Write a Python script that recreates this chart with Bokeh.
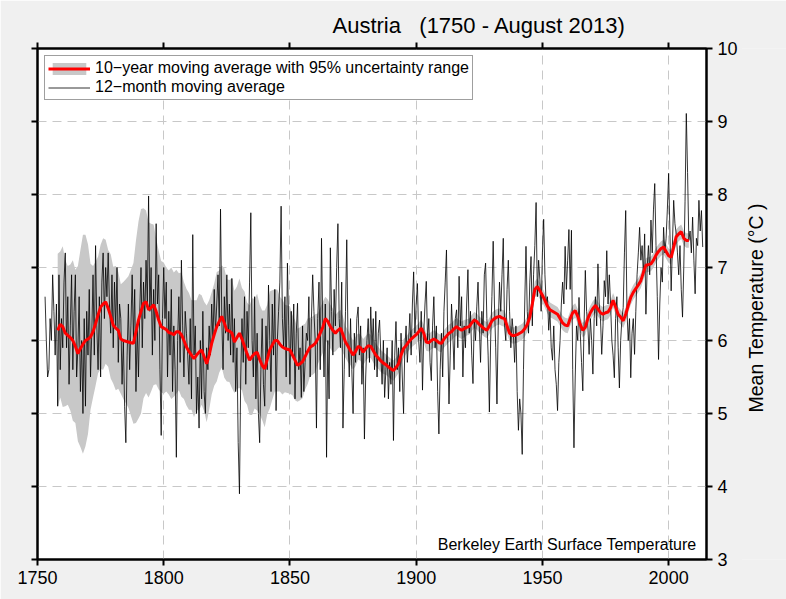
import math
from bokeh.plotting import figure
from bokeh.layouts import row
from bokeh.models import Range1d, LinearAxis, FixedTicker, Legend, LegendItem, Label
from bokeh.embed import file_html
from bokeh.resources import INLINE

# ---------------- data ----------------
# 12-month moving average, semi-annual readings starting 1753.0
ma12_1753_1799 = [
    6.6, 6.0, 5.5, 5.6, 6.3, 6.0, 6.9, 6.4, 5.8, 6.5, 5.1, 6.9, 5.6, 6.3,
    5.9, 6.8, 7.2, 5.9, 6.6, 5.4, 6.2, 6.9, 5.6, 6.4, 6.9, 5.5, 5.9, 6.6, 5.3, 6.0, 5.0, 6.3, 5.1, 6.4,
    5.8, 6.7, 5.5, 6.1, 6.9, 5.8, 7.3, 6.2, 5.6, 6.6, 5.5, 6.8, 7.2, 6.3, 7.0, 6.6, 7.2, 6.5, 6.1, 6.9,
    5.9, 6.8, 6.2, 7.0, 5.7, 6.5, 6.3, 5.4, 6.0, 5.1, 4.6, 5.8, 6.5, 5.6, 6.2, 6.9, 6.0, 6.7, 5.3, 6.2,
    5.5, 6.4, 7.0, 5.9, 6.8, 6.3, 7.1, 6.5, 7.98, 6.4, 7.0, 5.8, 6.7, 6.0, 7.6, 6.5, 6.9, 5.6, 4.7, 6.3,
]
ma12_1800_1849 = [
    7.0, 6.3, 6.8, 5.5, 6.4, 5.8, 6.7, 5.3, 6.2, 5.6, 4.4, 6.0, 6.6, 5.7, 7.1, 6.2, 5.5, 6.4, 6.1, 5.8,
    5.4, 6.3, 5.2, 7.45, 5.8, 6.2, 5.0, 5.5, 4.8, 6.0, 5.2, 6.4, 5.3, 5.0, 5.9, 5.6, 6.2, 5.8, 6.5, 6.0,
    6.7, 6.1, 6.5, 6.9, 6.2, 7.8, 6.3, 5.6, 6.6, 6.1, 6.9, 6.0, 6.5, 5.8, 6.85, 5.7, 6.3, 5.3, 5.9, 4.6,
    3.9, 5.5, 6.3, 5.7, 6.6, 5.4, 6.4, 5.9, 6.8, 7.75, 6.0, 5.5, 6.6, 5.2, 6.1, 5.0, 4.6, 5.6, 6.3, 5.4,
    5.1, 6.2, 5.6, 6.76, 6.0, 5.3, 6.5, 5.8, 6.7, 5.04, 6.0, 6.4, 6.8, 7.84, 6.3, 5.9, 6.6, 5.5, 7.06, 6.2,
]
ma12_1850_1899 = [
    5.4, 6.4, 5.8, 6.5, 5.2, 6.1, 6.51, 5.6, 5.9, 5.22, 6.2, 5.3, 5.7, 6.1, 6.0, 6.6, 5.5, 6.3, 6.9, 6.4,
    6.0, 4.8, 6.3, 6.8, 5.6, 7.4, 6.2, 5.5, 6.5, 4.4, 6.0, 5.2, 7.27, 6.4, 5.8, 6.7, 6.2, 7.0, 7.6, 6.3,
    5.9, 6.8, 4.8, 5.6, 6.4, 7.38, 6.0, 5.5, 6.3, 5.6, 5.0, 6.1, 5.7, 6.3, 6.46, 5.8, 6.2, 5.4, 5.9, 4.65,
    5.5, 6.0, 6.3, 5.7, 6.46, 5.9, 6.3, 5.6, 6.4, 5.5, 6.1, 6.28, 5.8, 5.4, 6.0, 5.22, 5.6, 5.9, 5.2, 5.7,
    5.4, 6.0, 4.63, 5.8, 6.26, 5.6, 5.9, 5.3, 6.1, 5.5, 5.0, 5.9, 6.2, 5.7, 6.0, 6.37, 5.8, 6.5, 6.94, 6.1,
]
ma12_1900_1949 = [
    6.5, 6.78, 6.0, 5.7, 6.4, 5.32, 6.1, 6.5, 6.81, 6.0, 6.3, 5.7, 5.45, 6.2, 6.6, 5.9, 6.2, 5.3, 4.72, 5.6,
    6.1, 5.5, 6.4, 6.8, 7.24, 6.0, 5.13, 5.8, 6.5, 6.1, 5.6, 6.3, 6.42, 5.9, 6.88, 6.2, 6.6, 5.5, 6.2, 5.9,
    6.5, 6.97, 6.1, 6.4, 5.8, 5.41, 6.3, 6.0, 6.46, 6.8, 6.2, 5.7, 6.4, 6.1, 6.9, 7.06, 6.3, 5.8, 5.02, 6.0,
    6.6, 7.36, 6.5, 5.9, 5.13, 6.2, 6.8, 6.4, 6.9, 7.4, 6.2, 6.0, 6.7, 7.1, 6.4, 5.9, 6.3, 6.1, 5.7, 6.2,
    5.3, 4.77, 5.2, 5.0, 4.44, 5.6, 6.5, 7.29, 6.4, 6.1, 6.8, 7.15, 6.2, 6.9, 7.3, 7.89, 6.6, 7.1, 6.83, 6.4,
]
ma12_1950_2013 = [
    7.2, 7.66, 6.9, 6.5, 6.6, 6.14, 6.4, 5.9, 5.73, 6.2, 5.6, 5.4, 5.04, 5.7, 6.0, 6.5, 6.8, 6.5, 7.29, 6.7,
    7.1, 7.52, 6.7, 7.51, 5.6, 4.53, 5.5, 6.2, 6.0, 6.59, 6.1, 5.7, 5.31, 6.2, 6.96, 6.4, 6.2, 5.81, 6.3, 6.0,
    5.54, 6.3, 6.6, 6.2, 7.05, 6.5, 6.3, 5.81, 6.2, 6.82, 6.6, 7.23, 6.5, 6.9, 6.5, 6.0, 5.8, 5.49, 6.3, 6.6,
    5.9, 5.35, 6.0, 6.3, 6.45, 7.2, 7.78, 6.4, 6.0, 6.3, 5.49, 6.1, 6.3, 5.81, 6.4, 6.9, 7.2, 7.55, 7.1, 7.3,
    6.9, 7.46, 6.36, 7.0, 7.3, 6.9, 7.65, 7.2, 7.8, 8.15, 7.3, 6.6, 5.74, 6.5, 7.0, 6.8, 7.55, 7.2, 7.4, 7.8,
    8.29, 7.5, 6.68, 7.3, 7.92, 7.6, 7.46, 7.2, 6.9, 7.3, 6.7, 6.32, 7.0, 7.9, 9.11, 8.3, 7.37, 7.5, 7.2, 7.69,
    7.1, 6.64, 7.4, 7.3, 7.92, 7.5, 7.78, 7.28,
]
ma12_start_year = 1753.0
ma12_step = 0.5

# 10-year moving average, annual readings starting 1758
ma10_1758_1849 = [
    6.14, 6.22,
    6.19, 6.10, 6.07, 6.04, 6.00, 5.92, 5.82, 5.89, 5.95, 6.00,
    6.02, 6.05, 6.12, 6.23, 6.35, 6.46, 6.50, 6.53, 6.44, 6.33,
    6.21, 6.17, 6.14, 6.02, 6.00, 5.99, 5.98, 5.97, 5.96, 6.12,
    6.28, 6.40, 6.51, 6.53, 6.42, 6.45, 6.49, 6.40, 6.28, 6.19,
    6.17, 6.15, 6.11, 6.10, 6.08, 6.12, 6.12, 6.08, 6.00, 5.91,
    5.85, 5.80, 5.75, 5.80, 5.84, 5.87, 5.78, 5.68, 5.80, 5.96,
    6.08, 6.19, 6.26, 6.33, 6.24, 6.14, 6.13, 6.10, 5.98, 6.04,
    6.10, 6.02, 5.92, 5.82, 5.73, 5.78, 5.82, 5.84, 5.74, 5.66,
    5.61, 5.74, 5.87, 5.94, 6.00, 6.00, 5.95, 5.91, 5.89, 5.88,
]
ma10_1850_1929 = [
    5.87, 5.80, 5.73, 5.66, 5.68, 5.71, 5.78, 5.85, 5.91, 5.93,
    5.96, 6.02, 6.10, 6.18, 6.30, 6.26, 6.19, 6.14, 6.10, 6.14,
    6.17, 6.08, 5.98, 5.92, 5.86, 5.80, 5.85, 5.92, 5.90, 5.84,
    5.89, 5.93, 5.92, 5.86, 5.80, 5.76, 5.72, 5.69, 5.67, 5.64,
    5.61, 5.59, 5.63, 5.68, 5.80, 5.89, 5.93, 5.98, 6.02, 6.05,
    6.08, 6.12, 6.17, 6.10, 5.98, 5.97, 6.00, 6.02, 6.00, 5.97,
    5.96, 6.02, 6.06, 6.10, 6.12, 6.16, 6.19, 6.16, 6.14, 6.16,
    6.18, 6.19, 6.24, 6.28, 6.26, 6.22, 6.19, 6.16, 6.14, 6.20,
]
ma10_1930_2008 = [
    6.27, 6.30, 6.32, 6.33, 6.31, 6.30, 6.20, 6.10, 6.07, 6.07,
    6.08, 6.10, 6.12, 6.16, 6.22, 6.32, 6.50, 6.70, 6.74, 6.68,
    6.62, 6.55, 6.47, 6.42, 6.40, 6.38, 6.36, 6.30, 6.24, 6.21,
    6.20, 6.30, 6.38, 6.41, 6.33, 6.22, 6.14, 6.18, 6.30, 6.38,
    6.44, 6.48, 6.43, 6.38, 6.36, 6.38, 6.39, 6.45, 6.55, 6.46,
    6.36, 6.32, 6.27, 6.36, 6.48, 6.59, 6.66, 6.71, 6.76, 6.82,
    6.93, 7.03, 7.04, 7.05, 7.10, 7.17, 7.22, 7.26, 7.28, 7.22,
    7.16, 7.14, 7.28, 7.42, 7.46, 7.49, 7.40, 7.37, 7.37,
]
ma10_start_year = 1758

# 95% uncertainty half-width of the 10-year average (same years)
unc_1758_1849 = [
    1.05, 1.0,
    1.1, 1.0, 0.95, 1.0, 1.1, 1.05, 1.2, 1.35, 1.5, 1.45,
    1.3, 1.0, 0.9, 0.85, 0.8, 0.85, 0.9, 0.85, 0.8, 0.85,
    0.8, 0.85, 0.8, 0.75, 0.8, 0.85, 0.9, 1.0, 1.1, 1.25,
    1.35, 1.4, 1.3, 1.25, 1.2, 1.15, 1.1, 1.0, 0.95, 0.9,
    0.9, 0.85, 0.85, 0.9, 0.85, 0.85, 0.8, 0.85, 0.8, 0.8,
    0.8, 0.75, 0.8, 0.75, 0.8, 0.75, 0.75, 0.8, 0.75, 0.7,
    0.7, 0.75, 0.7, 0.7, 0.75, 0.7, 0.7, 0.75, 0.7, 0.7,
    0.75, 0.7, 0.75, 0.7, 0.75, 0.8, 0.75, 0.8, 0.75, 0.75,
    0.8, 0.75, 0.8, 0.75, 0.7, 0.7, 0.65, 0.65, 0.6, 0.6,
]
unc_1850_1929 = [
    0.6, 0.55, 0.55, 0.5, 0.5, 0.5, 0.45, 0.45, 0.4, 0.4,
    0.4, 0.35, 0.35, 0.35, 0.3, 0.3, 0.3, 0.3, 0.25, 0.25,
    0.25, 0.25, 0.22, 0.22, 0.2, 0.2, 0.2, 0.18, 0.18, 0.18,
    0.17, 0.17, 0.16, 0.16, 0.16, 0.15, 0.15, 0.15, 0.14, 0.14,
    0.14, 0.14, 0.13, 0.13, 0.13, 0.13, 0.12, 0.12, 0.12, 0.12,
    0.12, 0.12, 0.12, 0.12, 0.12, 0.12, 0.12, 0.12, 0.12, 0.12,
    0.12, 0.12, 0.12, 0.12, 0.12, 0.12, 0.12, 0.12, 0.12, 0.12,
    0.11, 0.11, 0.11, 0.11, 0.11, 0.11, 0.11, 0.11, 0.11, 0.11,
]
unc_1930_2008 = [
    0.11, 0.11, 0.11, 0.11, 0.11, 0.11, 0.11, 0.11, 0.11, 0.11,
    0.11, 0.11, 0.11, 0.11, 0.11, 0.11, 0.11, 0.11, 0.11, 0.11,
    0.1, 0.1, 0.1, 0.1, 0.1, 0.1, 0.1, 0.1, 0.1, 0.1,
    0.1, 0.1, 0.1, 0.1, 0.1, 0.1, 0.1, 0.1, 0.1, 0.1,
    0.1, 0.1, 0.1, 0.1, 0.1, 0.1, 0.1, 0.1, 0.1, 0.1,
    0.1, 0.1, 0.1, 0.1, 0.1, 0.1, 0.1, 0.1, 0.1, 0.1,
    0.1, 0.1, 0.1, 0.1, 0.1, 0.1, 0.1, 0.1, 0.1, 0.1,
    0.1, 0.1, 0.1, 0.1, 0.1, 0.1, 0.1, 0.1, 0.1,
]

x_ticks = [1750, 1800, 1850, 1900, 1950, 2000]
y_ticks = [3, 4, 5, 6, 7, 8, 9, 10]
x_limits = (1750, 2015)
y_limits = (3, 10)

title_text = "Austria\u00a0\u00a0\u00a0(1750 - August 2013)"
y_label = "Mean Temperature (\u00b0C )"
legend_band = "10\u2212year moving average with 95% uncertainty range"
legend_line = "12\u2212month moving average"
credit_text = "Berkeley Earth Surface Temperature"

# ---------------- derived ----------------
ma12_vals = ma12_1753_1799 + ma12_1800_1849 + ma12_1850_1899 + ma12_1900_1949 + ma12_1950_2013
ma12_years = [ma12_start_year + ma12_step * i for i in range(len(ma12_vals))]
ma10_vals = ma10_1758_1849 + ma10_1850_1929 + ma10_1930_2008
ma10_years = [ma10_start_year + i for i in range(len(ma10_vals))]
unc = unc_1758_1849 + unc_1850_1929 + unc_1930_2008
n = min(len(ma10_vals), len(unc))
band_years = ma10_years[:n]
band_low = [ma10_vals[i] - unc[i] for i in range(n)]
band_high = [ma10_vals[i] + unc[i] for i in range(n)]

FONT = "Liberation Sans"
BG = "#f0f0f0"

p = figure(
    frame_width=669, frame_height=511,
    x_range=Range1d(*x_limits), y_range=Range1d(*y_limits),
    y_axis_location="right",
    output_backend="svg", toolbar_location=None,
    min_border_left=37, min_border_right=36, min_border_top=48, min_border_bottom=40,
    border_fill_color=BG, background_fill_color="white",
    outline_line_color="black", outline_line_width=2,
)

# title
p.title.text = title_text
p.title.text_font = FONT
p.title.text_font_size = "22px"
p.title.text_font_style = "normal"
p.title.text_color = "black"
p.title.align = "left"
p.title.offset = 295

xt = FixedTicker(ticks=x_ticks)
yt = FixedTicker(ticks=y_ticks)

def style_axis(ax):
    ax.axis_line_width = 2
    ax.axis_line_color = "black"
    ax.major_tick_line_width = 2
    ax.major_tick_line_color = "black"
    ax.major_tick_out = 6
    ax.major_tick_in = 0
    ax.minor_tick_line_color = None
    ax.major_label_text_font = FONT
    ax.major_label_text_font_size = "18px"
    ax.major_label_text_color = "black"
    ax.major_label_standoff = 5

bottom = p.below[0]
bottom.ticker = xt
style_axis(bottom)
right = p.right[0]
right.ticker = yt
style_axis(right)

top = LinearAxis(ticker=xt, major_label_overrides={t: "" for t in x_ticks})
style_axis(top)
p.add_layout(top, "above")
left = LinearAxis(ticker=yt, major_label_overrides={t: "" for t in y_ticks})
style_axis(left)
p.add_layout(left, "left")

p.xgrid.ticker = xt
p.ygrid.ticker = yt
for g in (p.xgrid, p.ygrid):
    g.grid_line_color = "#c8c8c8"
    g.grid_line_dash = "9 6"
    g.grid_line_width = 1

band_r = p.varea(x=band_years, y1=band_low, y2=band_high, fill_color="#c8c8c8", fill_alpha=1.0)
black_r = p.line(ma12_years, ma12_vals, line_color="black", line_width=0.8)
red_r = p.line(ma10_years, ma10_vals, line_color="#ff0000", line_width=3)

legend = Legend(
    items=[
        LegendItem(label=legend_band, renderers=[band_r, red_r]),
        LegendItem(label=legend_line, renderers=[black_r]),
    ],
    location="top_left",
    margin=7, padding=3, spacing=1,
    glyph_width=42, glyph_height=15, label_height=15, label_standoff=5,
    label_text_font=FONT, label_text_font_size="16px", label_text_color="black",
    border_line_color="#404040", border_line_width=1,
    background_fill_color="white", background_fill_alpha=1.0,
)
p.add_layout(legend, "center")

credit = Label(
    x=x_limits[1], y=y_limits[0], text=credit_text,
    x_offset=-10, y_offset=15, text_align="right", text_baseline="alphabetic",
    text_font=FONT, text_font_size="16px", text_color="black",
)
p.add_layout(credit)

# narrow strip on the right that carries the y-axis title, reading bottom to top
strip_w = 786 - 742 + 1
strip = figure(
    width=strip_w, height=599, x_range=Range1d(0, strip_w), y_range=Range1d(599, 0),
    x_axis_type=None, y_axis_type=None, output_backend="svg", toolbar_location=None,
    min_border=0, border_fill_color=BG, background_fill_color=BG, outline_line_color=None,
    margin=(0, 0, 0, -1),
)
strip.grid.visible = False
ylab = Label(
    x=14, y=304, text=y_label, angle=math.pi / 2, angle_units="rad",
    text_align="center", text_baseline="middle",
    text_font=FONT, text_font_size="19.5px", text_color="black",
)
strip.add_layout(ylab)

layout = row(p, strip, spacing=0)

open("out.html", "w").write(file_html(layout, INLINE))
